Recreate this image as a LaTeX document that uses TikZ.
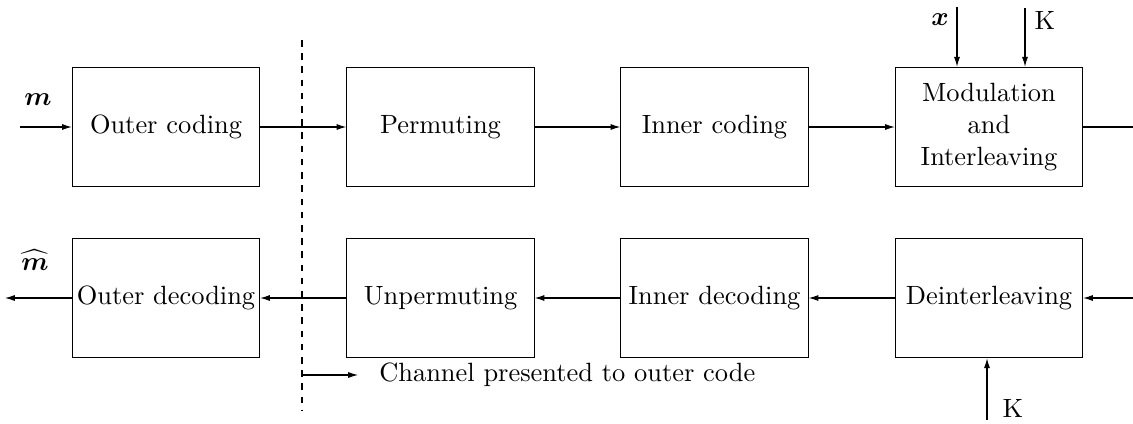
\documentclass[tikz,border=0pt]{standalone}
\usepackage{amsmath}
\usepackage{amssymb}
\usetikzlibrary{arrows.meta}
\begin{document}
\begin{tikzpicture}[x=0.0133cm,y=-0.0133cm,
            block/.style={draw,thin,minimum width=2.49cm,minimum height=1.59cm,align=center,inner sep=0pt},
            sig/.style={thin,-{Latex[length=1.3mm,width=0.8mm]}}]
            \useasboundingbox (0,0) rectangle (1133,423);
            % coding chain
            \node[block] (outer) at (166,127) {Outer coding};
            \node[block] (perm) at (440.5,127) {Permuting};
            \node[block] (inner) at (714.5,127) {Inner coding};
            \node[block] (mod) at (989,127) {Modulation\\and\\Interleaving};
            % decoding chain
            \node[block] (outerdec) at (166,298) {Outer decoding};
            \node[block] (unperm) at (440.5,298) {Unpermuting};
            \node[block] (innerdec) at (714.5,298) {Inner decoding};
            \node[block] (deint) at (989,298) {Deinterleaving};
            % free ends
            \coordinate (msrc) at (20,127);
            \coordinate (mdst) at (5,298);
            \coordinate (modout) at (1133,127);
            \coordinate (deinin) at (1133,298);
            \coordinate (xsrc) at (957,7);
            \coordinate (ksrc) at (1025,8);
            \coordinate (kbot) at (987,420);
            \draw[sig] (msrc) -- (outer.west);
            \draw[sig] (outer) -- (perm);
            \draw[sig] (perm) -- (inner);
            \draw[sig] (inner) -- (mod);
            \draw[thin] (mod.east) -- (modout);
            \draw[sig] (deinin) -- (deint.east);
            \draw[sig] (deint) -- (innerdec);
            \draw[sig] (innerdec) -- (unperm);
            \draw[sig] (unperm) -- (outerdec);
            \draw[sig] (outerdec.west) -- (mdst);
            \draw[sig] (xsrc) -- (xsrc |- mod.north);
            \draw[sig] (ksrc) -- (ksrc |- mod.north);
            \draw[sig] (kbot) -- (kbot |- deint.south);
            \node (mlab) at (38,100) {$\boldsymbol{m}$};
            \node (mhatlab) at (35,260) {$\widehat{\boldsymbol{m}}$};
            \node (xlab) at (940,20) {$\boldsymbol{x}$};
            \node (klab) at (1045,20) {K};
            \node (kbotlab) at (1013,408) {K};
            % channel seen by the outer code
            \coordinate (cuttop) at (302,40);
            \coordinate (cutbot) at (302,410);
            \draw[thin,dash pattern=on 2.5pt off 2.5pt] (cuttop) -- (cutbot);
            \coordinate (chan) at (302,375);
            \coordinate (chanend) at (358,375);
            \node[anchor=west] (chanlab) at (370,375) {Channel presented to outer code};
            \draw[sig] (chan) -- (chanend);
        \end{tikzpicture}
\end{document}
